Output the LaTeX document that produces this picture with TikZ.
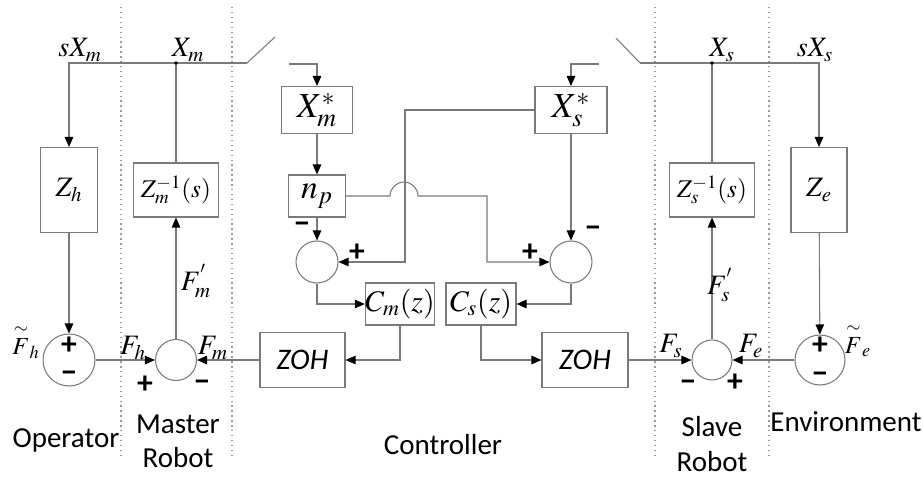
\documentclass[tikz,border=0pt]{standalone}
\usepackage{mathptmx}
\usepackage{amsmath}
\usepackage{fontspec}
\setmainfont{Liberation Serif}
\setsansfont{Carlito}
\usetikzlibrary{arrows.meta,calc}
\definecolor{wiregray}{HTML}{7A7A7A}
\definecolor{zonegray}{HTML}{9A9A9A}

\begin{document}
\begin{tikzpicture}[
  x=0.02cm, y=-0.02cm,
  box/.style={draw=wiregray, line width=0.6pt, inner sep=0pt},
  sumc/.style={draw=wiregray, circle, line width=0.6pt, inner sep=0pt},
  ln/.style={draw=wiregray, line width=0.6pt},
  arr/.style={ln, -{Triangle[length=2mm, width=1.7mm, color=black]}},
  dot/.style={circle, fill=black, inner sep=0pt, minimum size=2.2pt},
  sig/.style={inner sep=0pt, font=\fontsize{16}{18}\selectfont},
  sgn/.style={inner sep=0pt, font=\sffamily\bfseries\fontsize{18}{20}\selectfont},
  zoh/.style={box, font=\sffamily\itshape\fontsize{17}{20}\selectfont},
  zonel/.style={draw=zonegray, dotted, line width=0.8pt},
  regionlbl/.style={align=center, inner sep=0pt, font=\sffamily\fontsize{16.5}{19.5}\selectfont}
]
\useasboundingbox (0,0) rectangle (923,477);

% region borders
\foreach \x in {121,232,655,769} \draw[zonel] (\x,7) -- (\x,458);

% master side
\node[box, minimum width=1.14cm, minimum height=1.7cm, font=\fontsize{16}{18}\selectfont] (zh) at (69,190) {$Z_h$};
\node[box, minimum width=1.7cm, minimum height=1.08cm, font=\fontsize{14.5}{17}\selectfont] (zm) at (176,190) {$Z_m^{-1}(s)$};
\node[sumc, minimum size=1.04cm] (sop) at (69,360) {};
\node[sumc, minimum size=0.82cm] (smr) at (176,360) {};

% controller
\node[box, minimum width=1.42cm, minimum height=0.94cm, font=\fontsize{20}{22}\selectfont] (xms) at (317,110) {$X_m^*$};
\node[box, minimum width=1.14cm, minimum height=0.84cm, font=\fontsize{19}{22}\selectfont] (np) at (317,196) {$n_p$};
\node[box, minimum width=1.44cm, minimum height=0.94cm, font=\fontsize{20}{22}\selectfont] (xss) at (571,110) {$X_s^*$};
\node[sumc, minimum size=0.84cm] (scm) at (317,262) {};
\node[sumc, minimum size=0.84cm] (scs) at (571,262) {};
\node[box, minimum width=1.36cm, minimum height=0.84cm, font=\fontsize{17}{20}\selectfont] (cm) at (400,304) {$C_m(z)$};
\node[box, minimum width=1.4cm, minimum height=0.84cm, font=\fontsize{17}{20}\selectfont] (cs) at (481,304) {$C_s(z)$};
\node[zoh, minimum width=1.7cm, minimum height=1.1cm] (zohm) at (302.5,360) {ZOH};
\node[zoh, minimum width=1.72cm, minimum height=1.1cm] (zohs) at (585,360) {ZOH};

% slave side
\node[box, minimum width=1.7cm, minimum height=1.08cm, font=\fontsize{14.5}{17}\selectfont] (zs) at (712,190) {$Z_s^{-1}(s)$};
\node[box, minimum width=1.12cm, minimum height=1.7cm, font=\fontsize{16}{18}\selectfont] (ze) at (819,190) {$Z_e$};
\node[sumc, minimum size=0.8cm] (ssr) at (712,360) {};
\node[sumc, minimum size=1cm] (sen) at (820,360) {};

% switches and position bus
\coordinate (swm) at (247,63);
\coordinate (swmo) at (275,37);
\coordinate (sws) at (640,63);
\coordinate (swso) at (616,38);
\coordinate (inm) at (289,64);
\coordinate (ins) at (599,64);
\coordinate (hop) at (390,196);
\coordinate (kx) at (405,262);
\coordinate (ky) at (487,262);

\draw[arr] (swm) -| (zh.north);
\draw[ln] (swm) -- (swmo);
\draw[ln] (zm.north) -- (zm.north |- swm) node[dot]{};
\draw[arr] (sws) -| (ze.north);
\draw[ln] (sws) -- (swso);
\draw[ln] (zs.north) -- (zs.north |- sws) node[dot]{};

\draw[arr] (inm) -| (xms.north);
\draw[arr] (ins) -| (xss.north);
\draw[arr] (xms) -- (np);
\draw[arr] (np) -- (scm);
\draw[arr] (xss) -- (scs);
\draw[arr] (np.east) -- (hop) arc[start angle=180, end angle=0, radius=0.28cm] -| (ky) -- (scs.west);
\draw[arr] (xss.west) -| (kx) -- (scm.east);
\draw[arr] (scm.south) |- (cm.west);
\draw[arr] (scs.south) |- (cs.east);
\draw[arr] (cm.south) |- (zohm.east);
\draw[arr] (cs.south) |- (zohs.west);

\draw[arr] (zh) -- (sop);
\draw[arr] (sop) -- (smr);
\draw[arr] (zohm) -- (smr);
\draw[arr] (smr) -- (zm);
\draw[arr] (zohs) -- (ssr);
\draw[arr] (sen) -- (ssr);
\draw[arr] (ssr) -- (zs);
\draw[arr] (ze) -- (sen);

% signal labels
\node[sig] (lsxm) at (80,50) {$sX_m$};
\node[sig] (lxm) at (188,50) {$X_m$};
\node[sig] (lxs) at (722,50) {$X_s$};
\node[sig] (lsxs) at (815,50) {$sX_s$};
\node[sig, font=\fontsize{14}{16}\selectfont] (lfht) at (26,342) {$\overset{\sim}{F}_h$};
\node[sig] (lfh) at (133,348) {$F_h$};
\node[sig] (lfm) at (213,348) {$F_m$};
\node[sig] (lfmp) at (196,281) {$F_m^{'}$};
\node[sig] (lfs) at (671,346) {$F_s$};
\node[sig] (lfe) at (751,346) {$F_e$};
\node[sig] (lfsp) at (720,285) {$F_s^{'}$};
\node[sig, font=\fontsize{14}{16}\selectfont] (lfet) at (858,340) {$\overset{\sim}{F}_e$};

% signs
\node[sgn] at (69,346) {+};
\node[sgn] at (69,377) {−};
\node[sgn] at (145,385) {+};
\node[sgn] at (202,386) {−};
\node[sgn] at (302,228) {−};
\node[sgn] at (357,253) {+};
\node[sgn] at (593,232) {−};
\node[sgn] at (530,253) {+};
\node[sgn] at (688,386) {−};
\node[sgn] at (735,383) {+};
\node[sgn] at (820,346) {+};
\node[sgn] at (820,378) {−};

% region names
\node[regionlbl] (lop) at (66,440) {Operator};
\node[regionlbl] (lmr) at (178,441) {Master\\Robot};
\node[regionlbl] (lct) at (443,445) {Controller};
\node[regionlbl] (lsr) at (712,444) {Slave\\Robot};
\node[regionlbl] (len) at (846,422) {Environment};
\end{tikzpicture}
\end{document}
